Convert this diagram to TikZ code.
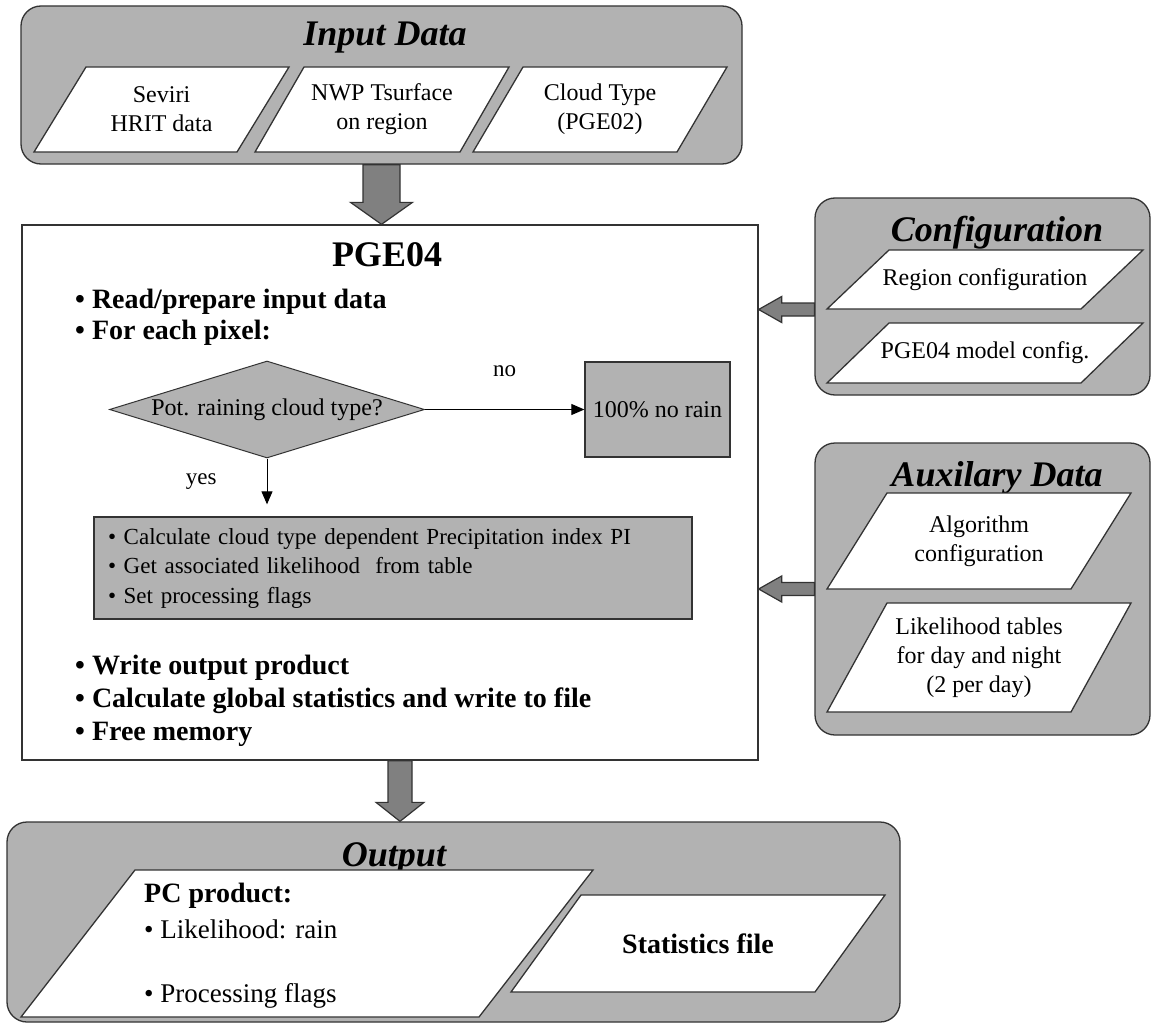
\documentclass[tikz,border=0pt]{standalone}
\usepackage{fontspec}
\setmainfont{Liberation Serif}
\usepackage{xcolor}
\definecolor{panelgray}{HTML}{B2B2B2}
\definecolor{arrowgray}{HTML}{808080}
\definecolor{edgegray}{HTML}{333333}
\usepackage{tikz}
\usetikzlibrary{arrows.meta, shapes.geometric, positioning, calc}

\tikzset{
  container/.style={draw=edgegray, fill=panelgray, line width=1.3pt, rounded corners=20pt},
  mainbox/.style={draw=edgegray, fill=white, line width=1.3pt},
  parabox/.style={draw=edgegray, fill=white, line width=1.3pt, line join=miter},
  paratext/.style={align=center, inner sep=0pt, font=\fontsize{24}{29}\selectfont},
  grouptitle/.style={inner sep=0pt, font=\fontsize{36}{40}\selectfont\bfseries\itshape},
  stepline/.style={anchor=west, inner sep=0pt, font=\fontsize{28}{32}\selectfont\bfseries},
  outline/.style={anchor=west, inner sep=0pt, font=\fontsize{27}{32}\selectfont},
  decision/.style={diamond, aspect=3.25, draw=edgegray, fill=panelgray, line width=1pt,
        inner sep=0pt, minimum width=315pt, minimum height=97pt, font=\fontsize{24}{28}\selectfont},
  procbox/.style={draw=edgegray, fill=panelgray, line width=1.3pt},
  flow/.style={-{Triangle[length=13pt,width=11pt]}, line width=1pt, black},
  flowlabel/.style={inner sep=0pt, font=\fontsize{23}{27}\selectfont},
  blockarrow/.style={fill=arrowgray, draw=edgegray, line width=1.2pt, line join=miter}
}

% data parallelogram: name, x bottom-left, x top-left, width, y top, y bottom, text
\newcommand{\datapara}[7]{%
  \draw[parabox] (#2,#6) -- (#3,#5) -- (#3+#4,#5) -- (#2+#4,#6) -- cycle;
  \node[paratext] (#1) at ({(#2+#3+#4)/2},{(#5+#6)/2}) {#7};}

% block arrows: start, tip, half shaft, half head, head length
\newcommand{\blockdown}[5]{%
  \path[blockarrow] let \p1=(#1), \p2=(#2) in
    (\x2-#3,\y1) -- (\x2+#3,\y1) -- (\x2+#3,\y2+#5) -- (\x2+#4,\y2+#5)
    -- (\x2,\y2) -- (\x2-#4,\y2+#5) -- (\x2-#3,\y2+#5) -- cycle;}
\newcommand{\blockleft}[5]{%
  \path[blockarrow] let \p1=(#1), \p2=(#2) in
    (\x1,\y2+#3) -- (\x2+#5,\y2+#3) -- (\x2+#5,\y2+#4) -- (\x2,\y2)
    -- (\x2+#5,\y2-#4) -- (\x2+#5,\y2-#3) -- (\x1,\y2-#3) -- cycle;}

\begin{document}
\begin{tikzpicture}[x=1pt, y=-1pt, >=Stealth]
  \useasboundingbox (0,0) rectangle (1152,1025);

  % group boxes
  \node[container, minimum width=721pt, minimum height=158pt] (input) at (381.5,85) {};
  \node[mainbox, minimum width=736pt, minimum height=535pt] (pge) at (390,492.5) {};
  \node[container, minimum width=335pt, minimum height=197pt] (config) at (982.5,296.5) {};
  \node[container, minimum width=335pt, minimum height=292pt] (aux) at (982.5,589) {};
  \node[container, minimum width=893pt, minimum height=200pt] (output) at (453.5,922) {};

  \node[grouptitle] (inputtitle) at (385,38) {Input Data};
  \node[grouptitle] (configtitle) at (997,233) {Configuration};
  \node[grouptitle] (auxtitle) at (997,478) {Auxilary Data};
  \node[grouptitle] (outputtitle) at (394,858) {Output};

  % inputs
  \datapara{seviri}{34}{86}{203}{67}{152}{Seviri\\HRIT data}
  \datapara{nwp}{255}{304}{205}{67}{152}{NWP Tsurface\\on region}
  \datapara{cloudtype}{473}{523}{204}{67}{152}{Cloud Type\\(PGE02)}

  \datapara{regioncfg}{827}{889}{254}{250}{309}{Region configuration}
  \datapara{modelcfg}{827}{889}{254}{323}{383}{PGE04 model config.}

  \datapara{algocfg}{827}{887}{244}{493}{589}{Algorithm\\configuration}
  \datapara{liketab}{827}{887}{244}{603}{712}{Likelihood tables\\for day and night\\(2 per day)}

  % outputs
  \datapara{pcprod}{21}{135}{458}{870}{1017}{}
  \datapara{statfile}{511}{581}{304}{895}{992}{\fontsize{28}{32}\selectfont\bfseries Statistics file}
  \node[stepline] (pctitle) at (144,896) {PC product:};
  \node[outline] (pclike) at (144,929) {\textbullet\ Likelihood: rain};
  \node[outline] (pcflags) at (144,996) {\textbullet\ Processing flags};

  % PGE04 steps
  \node[inner sep=0pt, font=\fontsize{36}{40}\selectfont\bfseries] (pgetitle) at (387,255) {PGE04};
  \node[stepline] (readstep) at (75,302) {\textbullet\ Read/prepare input data};
  \node[stepline] (pixelstep) at (75,333) {\textbullet\ For each pixel:};
  \node[stepline] (writestep) at (75,668) {\textbullet\ Write output product};
  \node[stepline] (globalstep) at (75,701) {\textbullet\ Calculate global statistics and write to file};
  \node[stepline] (freestep) at (75,734) {\textbullet\ Free memory};

  % per pixel
  \node[decision] (test) at (267,409.5) {Pot. raining cloud type?};
  \node[procbox, minimum width=145pt, minimum height=95pt, inner sep=0pt,
        font=\fontsize{24}{28}\selectfont] (norain) at (657.5,409.5) {100\% no rain};
  \node[procbox, text width=570pt, inner xsep=14pt, inner ysep=0pt, minimum height=102pt,
        align=left, font=\fontsize{23}{29.5}\selectfont] (pixelcalc) at (393,568)
        {\textbullet\ Calculate cloud type dependent Precipitation index PI\\
         \textbullet\ Get associated likelihood\ \ from table\\
         \textbullet\ Set processing flags};

  \draw[flow] (test.east) -- node[flowlabel, midway, above=32pt] (nolabel) {no} (norain.west);
  \draw[flow, shorten >=12pt] (test.south) --
    node[flowlabel, pos=0.4, left=50pt] (yeslabel) {yes} (test.south |- pixelcalc.north);

  % block arrows
  \blockdown{input.south}{input.south |- pge.north}{18.5pt}{31pt}{22pt}
  \coordinate (pgeexit) at ($(pge.south)+(10,0)$);
  \blockdown{pgeexit}{pgeexit |- output.north}{12pt}{24pt}{19pt}
  \coordinate (cfgexit) at ($(config.west)+(0,13)$);
  \blockleft{cfgexit}{cfgexit -| pge.east}{6.5pt}{13pt}{23pt}
  \blockleft{aux.west}{aux.west -| pge.east}{6.5pt}{13pt}{23pt}

\end{tikzpicture}
\end{document}
